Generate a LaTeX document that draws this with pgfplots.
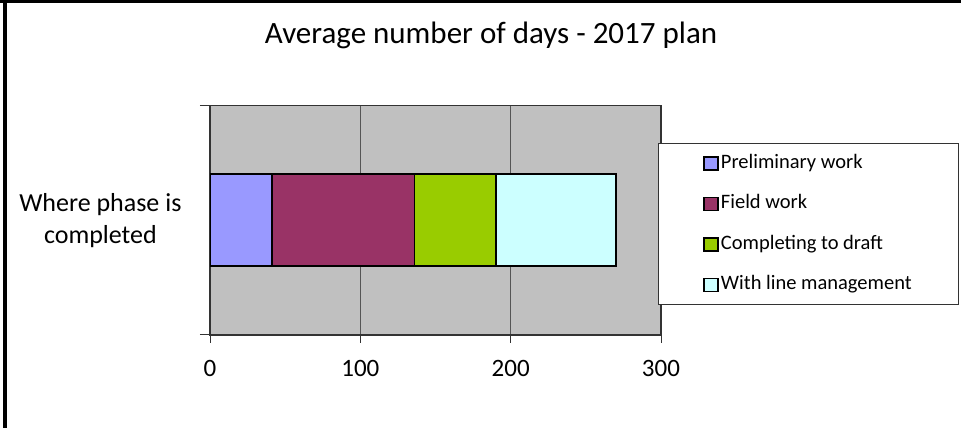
\documentclass[border=0pt]{standalone}
\usepackage{fontspec}
\setmainfont{Carlito}
\usepackage{pgfplots}
\pgfplotsset{compat=1.18}
\definecolor{cPre}{HTML}{9999FF}
\definecolor{cField}{HTML}{993366}
\definecolor{cComp}{HTML}{99CC00}
\definecolor{cLine}{HTML}{CCFFFF}
\definecolor{bgGray}{HTML}{C0C0C0}
\definecolor{gridGray}{HTML}{555555}
\definecolor{axGray}{HTML}{333333}
\begin{document}
\begin{tikzpicture}[x=1pt,y=1pt]
\useasboundingbox (0,0) rectangle (961,428);
\fill[white] (0,0) rectangle (961,428);
\draw[line width=3.5pt] (0,426.25) -- (961,426.25);
\draw[line width=3.5pt] (5,428) -- (5,0);
\node[font=\fontsize{31}{37}\selectfont, anchor=base] at (491,384) {Average number of days - 2017 plan};
\begin{axis}[
  at={(210pt,93pt)}, anchor=south west,
  scale only axis, width=451pt, height=229.3pt,
  xbar stacked, bar width=92pt,
  xmin=0, xmax=300, ymin=0, ymax=2,
  xtick={0,100,200,300},
  ytick={1}, yticklabels={{Where phase is\\completed}},
  extra y ticks={0,2}, extra y tick labels={},
  extra y tick style={ytick style={draw=axGray, line width=1pt}, major tick length=10pt},
  ytick style={draw=none},
  xtick style={draw=axGray, line width=1pt},
  xtick pos=bottom, ytick pos=left,
  major tick length=8pt,
  tick align=outside,
  xmajorgrids,
  major grid style={draw=gridGray, line width=1.3pt},
  axis background/.style={fill=bgGray},
  axis line style={draw=axGray, line width=1.6pt},
  /pgf/number format/assume math mode=true,
  xticklabel style={font=\fontsize{25}{30}\selectfont, yshift=-14pt},
  yticklabel style={font=\fontsize{26}{32}\selectfont, align=center, xshift=-17pt},
  every axis plot/.append style={draw=black, line width=1.8pt},
  legend style={at={(0.9933,0.837)}, anchor=north west, draw=axGray, line width=1pt, fill=white,
    font=\fontsize{20.5}{24}\selectfont, inner xsep=45pt, inner ysep=9.5pt,
    row sep=20.5pt, column sep=0pt,
    nodes={inner xsep=2pt, inner ysep=0pt, text height=15pt, text depth=5pt}},
  legend cell align=left,
  legend image code/.code={\draw[#1,draw=black,line width=1.5pt] (0pt,-7pt) rectangle (14pt,6pt);},
]
\addplot[fill=cPre] coordinates {(41,1)};
\addplot[fill=cField] coordinates {(95,1)};
\addplot[fill=cComp] coordinates {(54,1)};
\addplot[fill=cLine] coordinates {(80,1)};
\legend{Preliminary work, Field work, Completing to draft, With line management}
\end{axis}
\end{tikzpicture}
\end{document}
